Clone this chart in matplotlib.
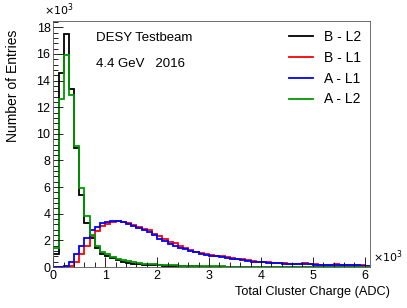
import numpy as np
import matplotlib
matplotlib.use("Agg")
import matplotlib.pyplot as plt

plt.rcParams['font.family'] = ['Liberation Sans', 'DejaVu Sans']

# bin width 100 ADC, 61 bins from 0 to 6100; counts in units of 10^3
edges = np.arange(0, 6101, 100) / 1000.0

b_l2 = [1.0, 14.6, 17.5, 13.4, 8.9, 5.4, 3.3, 2.2, 1.4, 1.0,
        0.8, 0.65, 0.5, 0.4, 0.32, 0.26, 0.22, 0.19, 0.16, 0.14,
        0.12, 0.1, 0.09, 0.08, 0.07, 0.06, 0.05, 0.05, 0.04, 0.04,
        0.03, 0.03, 0.03, 0.02, 0.02, 0.02, 0.02, 0.02, 0.01, 0.01,
        0.01, 0.01, 0.01, 0.01, 0.01, 0.01, 0.01, 0.01, 0.01, 0.01,
        0.01, 0.01, 0.01, 0.01, 0.01, 0.01, 0.01, 0.01, 0.01, 0.01, 0.01]

b_l1 = [0.0, 0.0, 0.02, 0.08, 0.35, 0.95, 1.6, 2.3, 2.7, 3.05,
        3.25, 3.4, 3.45, 3.4, 3.3, 3.15, 3.0, 2.85, 2.75, 2.5,
        2.3, 2.1, 1.9, 1.8, 1.6, 1.4, 1.28, 1.16, 1.06, 0.97,
        0.9, 0.86, 0.8, 0.74, 0.68, 0.63, 0.57, 0.5, 0.44, 0.41,
        0.38, 0.36, 0.33, 0.3, 0.28, 0.26, 0.25, 0.23, 0.27, 0.21,
        0.2, 0.19, 0.18, 0.17, 0.2, 0.15, 0.14, 0.13, 0.16, 0.12, 0.11]

a_l1 = [0.0, 0.02, 0.1, 0.35, 0.95, 1.55, 2.2, 2.8, 3.0, 3.3,
        3.4, 3.48, 3.45, 3.38, 3.25, 3.1, 2.95, 2.8, 2.6, 2.4,
        2.12, 1.92, 1.75, 1.6, 1.45, 1.32, 1.2, 1.1, 1.01, 0.92,
        0.85, 0.8, 0.75, 0.69, 0.63, 0.59, 0.52, 0.46, 0.41, 0.38,
        0.36, 0.34, 0.31, 0.28, 0.26, 0.25, 0.23, 0.24, 0.21, 0.2,
        0.19, 0.18, 0.17, 0.17, 0.15, 0.14, 0.13, 0.12, 0.12, 0.11, 0.1]

a_l2 = [1.4, 12.6, 15.9, 12.9, 9.1, 5.9, 3.8, 2.4, 1.6, 1.15,
        0.95, 0.78, 0.64, 0.52, 0.43, 0.37, 0.3, 0.26, 0.23, 0.2,
        0.18, 0.16, 0.14, 0.12, 0.11, 0.1, 0.09, 0.08, 0.07, 0.06,
        0.06, 0.05, 0.05, 0.04, 0.04, 0.04, 0.03, 0.03, 0.03, 0.03,
        0.02, 0.02, 0.02, 0.02, 0.02, 0.02, 0.02, 0.02, 0.02, 0.02,
        0.02, 0.02, 0.02, 0.02, 0.02, 0.02, 0.02, 0.02, 0.02, 0.02, 0.02]

labels = ["B - L2", "B - L1", "A - L1", "A - L2"]
colors = ["black", "#ff0000", "#0000ff", "#009900"]

fig = plt.figure(figsize=(4.07, 3.08), dpi=100)
ax = fig.add_axes([0.131, 0.133, 0.778, 0.800])

for vals, lab, col in zip([b_l2, b_l1, a_l1, a_l2], labels, colors):
    ax.stairs(vals, edges, color=col, lw=1.3, label=lab, baseline=None)

ax.set_xlim(0, 6.1)
ax.set_ylim(0, 18.5)
ax.set_xticks(np.arange(0, 7, 1))
ax.set_xticks(np.arange(0, 6.1, 0.2), minor=True)
ax.set_yticks(np.arange(0, 19, 2))
ax.set_yticks(np.arange(0, 18.5, 0.4), minor=True)
ax.tick_params(which='both', direction='in', labelsize=9, pad=2)
ax.tick_params(which='major', length=7, width=0.6)
ax.tick_params(which='minor', length=3.5, width=0.6)
for s in ax.spines.values():
    s.set_linewidth(0.6)
    s.set_color('#555555')

ax.set_ylabel("Number of Entries", fontsize=10, loc='top')
ax.yaxis.set_label_coords(-0.105, 0.965)
ax.set_xlabel("Total Cluster Charge (ADC)", fontsize=9.2)
ax.xaxis.set_label_coords(1.063, -0.075, transform=ax.transAxes)
ax.xaxis.label.set_horizontalalignment('right')

ax.text(-0.03, 1.01, r"$\times10^{3}$", transform=ax.transAxes, fontsize=8,
        ha='left', va='bottom')
ax.text(1.01, 0.01, r"$\times10^{3}$", transform=ax.transAxes, fontsize=8,
        ha='left', va='bottom')

ax.text(0.135, 0.93, "DESY Testbeam", transform=ax.transAxes, fontsize=9.5,
        va='center')
ax.text(0.135, 0.825, "4.4 GeV   2016", transform=ax.transAxes, fontsize=9.5,
        va='center')

ax.legend(loc='upper right', frameon=False, fontsize=10, handlelength=1.7,
          labelspacing=0.5, borderaxespad=0.25, handletextpad=0.8)

fig.savefig("out.png", dpi=100)
